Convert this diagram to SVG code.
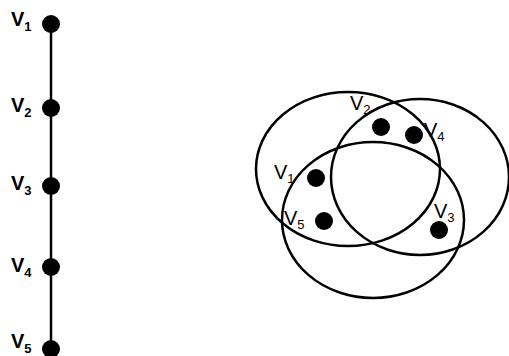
<svg xmlns="http://www.w3.org/2000/svg" width="509" height="356" viewBox="0 0 509 356">
<style>
.lbl{font-family:"Liberation Sans",Arial,sans-serif;font-size:20px;fill:#000}
.b{font-weight:bold}
.sub{font-size:13px}
.dot{fill:#000}
.ell{fill:none;stroke:#000;stroke-width:2.5}
</style>
<rect width="509" height="356" fill="#fff"/>
<g id="connectors">
<line x1="51" y1="23" x2="51" y2="350" stroke="#000" stroke-width="2.5"/>
</g>
<g id="path-v1"><circle class="dot" cx="51" cy="24" r="9"/><text class="lbl b" x="11" y="26">V<tspan class="sub" dy="5">1</tspan></text></g>
<g id="path-v2"><circle class="dot" cx="51" cy="108" r="9"/><text class="lbl b" x="11" y="112">V<tspan class="sub" dy="5">2</tspan></text></g>
<g id="path-v3"><circle class="dot" cx="51" cy="186" r="9"/><text class="lbl b" x="11" y="190">V<tspan class="sub" dy="5">3</tspan></text></g>
<g id="path-v4"><circle class="dot" cx="51" cy="267" r="9"/><text class="lbl b" x="11" y="272">V<tspan class="sub" dy="5">4</tspan></text></g>
<g id="path-v5"><circle class="dot" cx="51" cy="349" r="9"/><text class="lbl b" x="11" y="348">V<tspan class="sub" dy="5">5</tspan></text></g>
<g id="hyperedges">
<ellipse class="ell" cx="348" cy="169" rx="92" ry="77"/>
<ellipse class="ell" cx="420" cy="177" rx="89" ry="78"/>
<ellipse class="ell" cx="373" cy="220" rx="91" ry="78"/>
</g>
<g id="hg-v2"><circle class="dot" cx="381" cy="127" r="9"/><text class="lbl" x="350" y="110">V<tspan class="sub" dy="4">2</tspan></text></g>
<g id="hg-v4"><circle class="dot" cx="414" cy="135" r="9"/><text class="lbl" x="424" y="137">V<tspan class="sub" dy="4">4</tspan></text></g>
<g id="hg-v1"><circle class="dot" cx="316" cy="178" r="9"/><text class="lbl" x="274" y="179">V<tspan class="sub" dy="4">1</tspan></text></g>
<g id="hg-v5"><circle class="dot" cx="324" cy="221" r="9"/><text class="lbl" x="284" y="225">V<tspan class="sub" dy="4">5</tspan></text></g>
<g id="hg-v3"><circle class="dot" cx="439" cy="230" r="9"/><text class="lbl" x="434" y="218">V<tspan class="sub" dy="4">3</tspan></text></g>
</svg>
